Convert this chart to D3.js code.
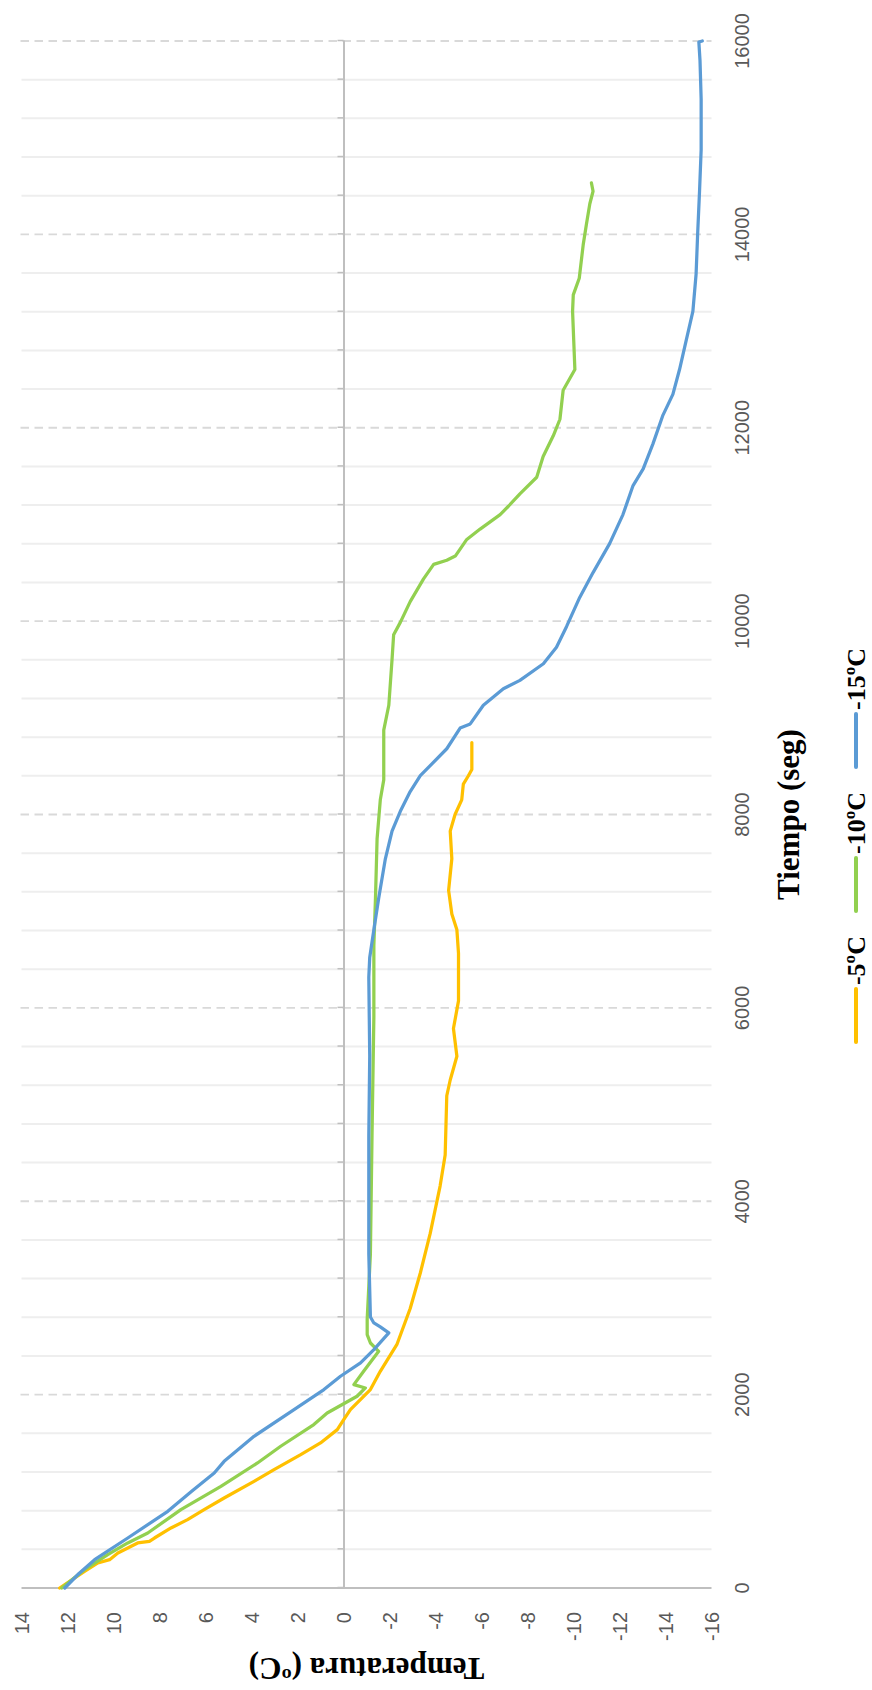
<!DOCTYPE html>
<html>
<head>
<meta charset="utf-8">
<script src="https://cdn.jsdelivr.net/npm/d3@7"></script>
<style>
  body { margin: 0; background: #ffffff; }
  svg { display: block; }
</style>
</head>
<body>
<svg id="chart" width="872" height="1690"></svg>
<script>
// Cooling curves: temperature (ºC) against time (s) for three freezer set points.
const series = ["-5ºC", "-10ºC", "-15ºC"];
const colors = ["#FFC000", "#92D050", "#5B9BD5"];

const tiempoM5 = [0, 172, 259, 293, 362, 414, 466, 483, 517, 621, 707, 810, 931, 1103, 1224, 1379, 1500, 1638, 1741, 1845, 2052, 2241, 2523, 2891, 3258, 3667, 4157, 4478, 5091, 5254, 5500, 5786, 6072, 6563, 6807, 6970, 7215, 7542, 7828, 8000, 8152, 8315, 8401, 8465, 8744];
const tempM5 = [12.34, 11.26, 10.68, 10.17, 9.81, 9.38, 8.95, 8.44, 8.22, 7.50, 6.78, 6.06, 5.19, 3.89, 3.02, 1.86, 1.00, 0.27, -0.01, -0.30, -1.17, -1.60, -2.33, -2.90, -3.34, -3.77, -4.20, -4.42, -4.49, -4.64, -4.93, -4.78, -5.00, -5.00, -4.93, -4.71, -4.57, -4.71, -4.64, -4.85, -5.14, -5.21, -5.43, -5.58, -5.58];

const tiempoM10 = [0, 190, 345, 466, 569, 810, 1052, 1293, 1466, 1690, 1810, 1983, 2069, 2103, 2250, 2448, 2534, 2621, 2782, 3456, 4682, 5908, 6643, 7134, 7747, 8152, 8358, 8873, 9130, 9602, 9859, 9987, 10202, 10437, 10587, 10630, 10673, 10845, 10952, 11102, 11188, 11316, 11488, 11702, 11917, 12088, 12388, 12602, 12903, 13203, 13374, 13546, 13889, 14103, 14317, 14446, 14532];
const tempM10 = [12.25, 11.26, 10.25, 9.38, 8.51, 7.07, 5.33, 3.74, 2.73, 1.29, 0.71, -0.59, -0.95, -0.45, -0.90, -1.53, -1.17, -1.03, -1.03, -1.17, -1.24, -1.32, -1.32, -1.39, -1.46, -1.60, -1.75, -1.75, -1.97, -2.11, -2.18, -2.47, -2.90, -3.48, -3.92, -4.49, -4.86, -5.36, -5.94, -6.81, -7.17, -7.67, -8.40, -8.68, -9.12, -9.41, -9.55, -10.06, -10.01, -9.96, -9.99, -10.25, -10.42, -10.56, -10.71, -10.85, -10.78];

const tiempoM15 = [0, 150, 293, 517, 793, 1000, 1190, 1310, 1569, 1845, 2052, 2190, 2328, 2466, 2639, 2700, 2741, 2803, 3456, 4682, 5499, 6317, 6521, 6807, 7134, 7542, 7828, 8033, 8237, 8401, 8680, 8894, 8937, 9130, 9301, 9387, 9559, 9730, 9945, 10245, 10502, 10802, 11102, 11402, 11574, 11831, 12131, 12345, 12602, 12903, 13203, 13589, 14017, 14446, 14875, 15400, 15800, 15990, 16000];
const tempM15 = [12.12, 11.50, 10.82, 9.38, 7.64, 6.60, 5.62, 5.19, 3.89, 2.15, 0.85, 0.13, -0.74, -1.32, -1.97, -1.60, -1.32, -1.17, -1.10, -1.10, -1.14, -1.10, -1.14, -1.32, -1.53, -1.82, -2.11, -2.47, -2.90, -3.34, -4.49, -5.07, -5.51, -6.08, -6.95, -7.67, -8.69, -9.26, -9.70, -10.27, -10.85, -11.57, -12.15, -12.59, -13.03, -13.45, -13.89, -14.32, -14.61, -14.90, -15.19, -15.33, -15.40, -15.48, -15.55, -15.55, -15.50, -15.45, -15.60];

const tiempoTicks = [0, 2000, 4000, 6000, 8000, 10000, 12000, 14000, 16000];
const tempTicks = [14, 12, 10, 8, 6, 4, 2, 0, -2, -4, -6, -8, -10, -12, -14, -16];
const tiempoMinorStep = 400;

const tiempos = [tiempoM5, tiempoM10, tiempoM15];
const temps = [tempM5, tempM10, tempM15];

// The chart is laid out in a landscape frame (W x H) and turned a quarter turn
// counter-clockwise onto the portrait page.
const W = 1690, H = 872;
const svg = d3.select("#chart");
const g = svg.append("g").attr("transform", `translate(0,${W}) rotate(-90)`);

const x = d3.scaleLinear().domain([0, 16000]).range([102, 1649]);
const y = d3.scaleLinear().domain([14, -16]).range([21.5, 711.5]);

const numFont = "'Liberation Sans', Arial, sans-serif";
const titleFont = "'Liberation Serif', 'Times New Roman', serif";

// Minor gridlines (solid) and major gridlines (dashed) along the time axis
const minorVals = d3.range(tiempoMinorStep, 16000 + 1, tiempoMinorStep).filter(v => !tiempoTicks.includes(v));
g.append("g").selectAll("line").data(minorVals).join("line")
  .attr("x1", d => x(d)).attr("x2", d => x(d))
  .attr("y1", y(14)).attr("y2", y(-16))
  .attr("stroke", "#eeeeee").attr("stroke-width", 2);

g.append("g").selectAll("line").data(tiempoTicks.filter(d => d > 0)).join("line")
  .attr("x1", d => x(d)).attr("x2", d => x(d))
  .attr("y1", y(14) - 1).attr("y2", y(-16))
  .attr("stroke", "#d9d9d9").attr("stroke-width", 1.8)
  .attr("stroke-dasharray", "8.5,5.5");

// Temperature axis line at t = 0
g.append("line")
  .attr("x1", x(0)).attr("x2", x(0))
  .attr("y1", y(14)).attr("y2", y(-16))
  .attr("stroke", "#bfbfbf").attr("stroke-width", 2);

// Time axis line crossing at 0 ºC, with tick marks
const timeAxis = d3.axisTop(x)
  .tickValues(d3.range(0, 16000 + 1, tiempoMinorStep))
  .tickSize(6).tickSizeOuter(0).tickFormat("");
const ta = g.append("g").attr("transform", `translate(0,${y(0)})`).call(timeAxis);
ta.select(".domain").attr("stroke", "#bfbfbf").attr("stroke-width", 2);
ta.selectAll(".tick line").attr("stroke", "#bfbfbf").attr("stroke-width", 1.5);

// Time tick labels (low position)
g.append("g").selectAll("text").data(tiempoTicks).join("text")
  .attr("x", d => x(d)).attr("y", 742)
  .attr("text-anchor", "middle").attr("dominant-baseline", "central")
  .attr("font-family", numFont).attr("font-size", 20).attr("fill", "#595959")
  .text(d => d);

// Temperature tick labels
g.append("g").selectAll("text").data(tempTicks).join("text")
  .attr("x", 78).attr("y", d => y(d))
  .attr("text-anchor", "end").attr("dominant-baseline", "central")
  .attr("font-family", numFont).attr("font-size", 20).attr("fill", "#595959")
  .text(d => d);

// Series
const line = d3.line().x(d => x(d[0])).y(d => y(d[1]));
series.forEach((name, i) => {
  const pts = tiempos[i].map((t, k) => [t, temps[i][k]]);
  g.append("path").datum(pts)
    .attr("d", line)
    .attr("fill", "none")
    .attr("stroke", colors[i])
    .attr("stroke-width", 3.25)
    .attr("stroke-linejoin", "round")
    .attr("stroke-linecap", "round");
});

// Axis titles
g.append("text")
  .attr("transform", `translate(22,${(y(14) + y(-16)) / 2}) rotate(-90)`)
  .attr("text-anchor", "middle").attr("dominant-baseline", "central")
  .attr("font-family", titleFont).attr("font-weight", "bold").attr("font-size", 31)
  .attr("fill", "#000").text("Temperatura (ºC)");

g.append("text")
  .attr("x", (x(0) + x(16000)) / 2).attr("y", 788)
  .attr("text-anchor", "middle").attr("dominant-baseline", "central")
  .attr("font-family", titleFont).attr("font-weight", "bold").attr("font-size", 31)
  .attr("fill", "#000").text("Tiempo (seg)");

// Legend, centred under the chart
const legendY = 856, swatch = 53, swGap = 4, itemGap = 25;
const legend = g.append("g");
const items = series.map((name, i) => {
  const it = legend.append("g");
  it.append("line").attr("x1", 0).attr("x2", swatch).attr("y1", legendY).attr("y2", legendY)
    .attr("stroke", colors[i]).attr("stroke-width", 4).attr("stroke-linecap", "round");
  const tx = it.append("text").attr("x", swatch + swGap).attr("y", legendY)
    .attr("dominant-baseline", "central")
    .attr("font-family", titleFont).attr("font-weight", "bold").attr("font-size", 26)
    .attr("fill", "#000").text(name);
  return { it, w: swatch + swGap + tx.node().getComputedTextLength() };
});
const total = d3.sum(items, d => d.w) + itemGap * (items.length - 1);
let cx = W / 2 - total / 2;
items.forEach(d => { d.it.attr("transform", `translate(${cx},0)`); cx += d.w + itemGap; });
</script>
</body>
</html>
